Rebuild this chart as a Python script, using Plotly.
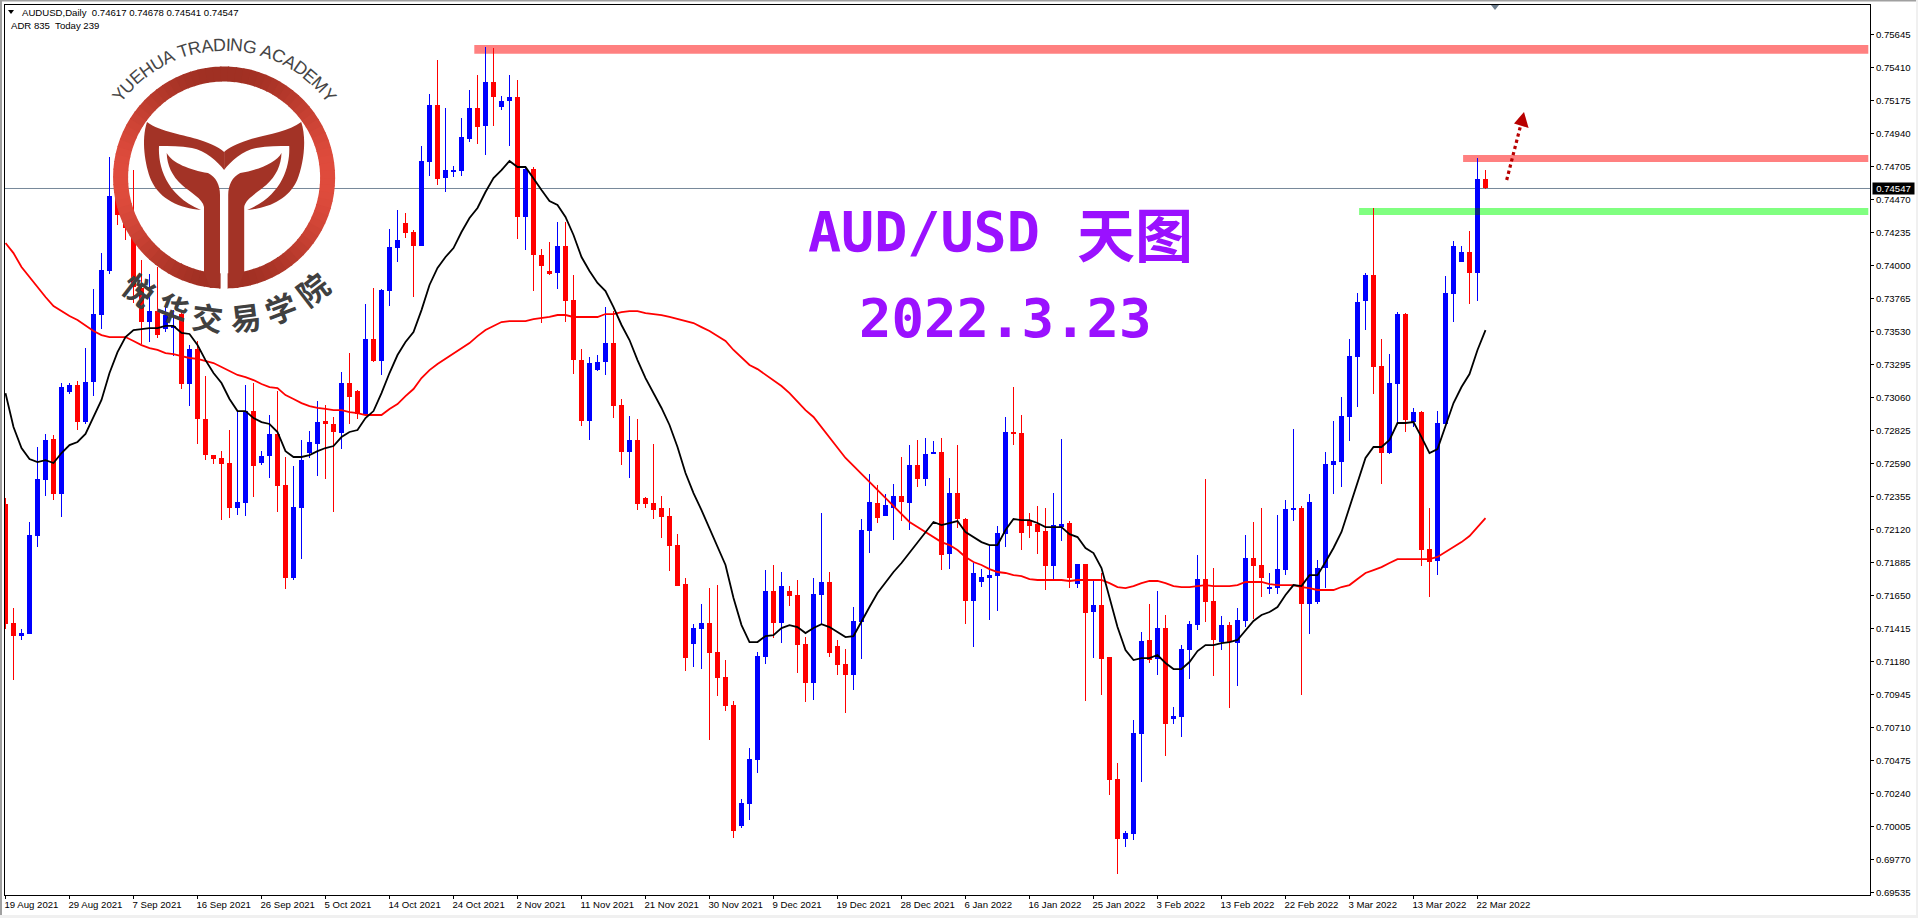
import math
import numpy as np
import plotly.graph_objects as go

# ---------- data (prices in points, 1 point = 0.00001) ----------
open_pts = [
72300,71453,71367,71374,72072,72471,72763,72371,73098,73147,
72884,73169,73646,73959,74486,74358,74265,73838,73596,73674,
73546,73553,73653,73155,73404,72905,72649,72628,72592,72272,
72307,72962,72592,72642,72799,72435,71773,72272,72663,72727,
72891,72870,72806,73162,73105,72941,73475,73318,73817,74123,
74301,74237,74137,74735,75141,74621,74671,74671,74899,75120,
74992,75305,75127,75170,75198,74344,74686,74073,73959,73945,
74137,73753,73325,72891,73254,73311,73446,73005,72670,72756,
72343,72307,72272,72215,72008,71730,71303,71410,71453,71246,
71068,70869,70007,70164,70477,71210,71680,71453,71680,71652,
71303,71025,71652,71745,71289,71161,71082,71460,72108,72307,
72215,72272,72357,72307,72578,72478,72663,72670,71944,72378,
72193,71609,71745,71773,71787,72086,72813,72806,72179,72158,
72108,71859,72136,72165,71730,71873,71531,71581,71210,70342,
69915,69950,70662,71332,71196,71417,70769,70783,71260,71438,
71766,71609,71317,71438,71310,71467,71916,71866,71702,71702,
71830,72257,72272,71588,71602,71844,72578,72599,72920,73347,
73746,73931,73283,72663,73155,73653,72884,72955,71980,71894,
72870,73795,74023,74095,73945,74617]
high_pts = [
72343,71559,71410,72172,72706,72799,72791,73162,73162,73176,
73411,73831,74087,74771,74536,74400,74678,74038,73938,73988,
73703,73681,73667,73432,73461,73212,72649,72677,72827,72969,
73147,73162,72677,72934,73105,72635,72571,72756,72820,73033,
73005,72920,73240,73375,73112,73724,73838,73831,74258,74394,
74372,74251,74849,75220,75462,75120,74707,75049,75248,75355,
75554,75547,75205,75355,75319,74700,74700,74116,74166,74308,
74308,73931,73404,73347,73361,73703,73674,73048,72927,72905,
72350,72727,72357,72272,72086,71773,71445,71588,71702,71723,
71189,70897,70199,70562,71246,71830,71866,71816,71716,71759,
71353,71773,72236,71816,71332,71267,71567,72193,72514,72435,
72371,72442,72635,72720,72756,72770,72749,72770,72485,72720,
72200,71880,71837,72008,72143,72920,73133,72934,72236,72286,
72272,72378,72763,72179,71873,71873,71759,71809,71210,70456,
69971,70762,71389,71588,71680,71510,70854,71296,71467,71937,
72478,71844,71503,71460,71559,72079,72172,72272,71809,72222,
72329,72834,72286,72371,71901,72670,72891,73062,73475,73803,
73945,74408,73475,73368,73667,73660,72984,72962,72272,72962,
73924,74173,74137,74244,74764,74678]
low_pts = [
71410,71047,71332,71374,71994,72357,72329,72207,73083,72827,
72870,73069,73546,73938,74287,74180,73731,73439,73454,73482,
73525,73354,73119,72998,72727,72613,72585,72186,72200,72222,
72215,72350,72578,72485,72243,71695,71759,71908,72628,72499,
72478,72243,72692,72870,72905,72934,73311,73219,73710,74023,
74194,73774,74137,74636,74572,74522,74629,74636,74878,74864,
74785,74992,75106,74849,74187,74109,73817,73589,73931,73831,
73596,73226,72855,72756,73247,73219,72912,72578,72485,72257,
72272,72193,72058,71823,71716,71111,71139,71125,70619,70933,
70826,69922,69993,70050,70384,71161,71346,71310,71574,71097,
70890,70904,71438,71210,71082,70812,70976,71196,71951,72165,
72215,72044,72179,72115,72421,72428,72656,71830,71837,72129,
71445,71282,71709,71474,71538,71994,72720,71972,72058,71944,
71688,71759,72037,71702,71702,70897,71203,70940,70228,69665,
69858,69907,70320,71168,71082,70506,70733,70641,71054,71403,
71460,71075,71260,70847,71004,71424,71481,71638,71659,71659,
71794,72179,70940,71374,71588,71702,72371,72421,72749,72991,
73539,73083,72442,72656,72877,72813,72848,71859,71638,71794,
72870,73596,74023,73724,73746,74541]
close_pts = [
71445,71360,71381,72079,72478,72756,72371,73133,73147,72884,
73169,73653,73966,74493,74358,74265,73845,73596,73674,73503,
73646,73568,73155,73404,72905,72649,72620,72585,72272,72314,
72962,72571,72642,72799,72428,71773,72279,72613,72742,72884,
72870,72813,73162,73062,72941,73475,73318,73824,74130,74180,
74230,74137,74743,75141,74614,74678,74678,74913,75120,74985,
75305,75198,75170,75198,74344,74686,74073,73995,73938,74137,
73746,73325,72891,73304,73311,73446,72998,72670,72756,72300,
72300,72257,72207,72001,71716,71203,71417,71453,71239,71061,
70862,69971,70171,70484,71218,71680,71453,71716,71645,71296,
71025,71659,71745,71239,71154,71082,71467,72115,72314,72200,
72293,72357,72314,72578,72478,72656,72670,71937,72378,72193,
71609,71809,71780,71794,72094,72813,72799,72094,72143,72101,
71859,72150,72158,71773,71873,71524,71581,71196,70335,69915,
69957,70669,71324,71189,71417,70733,70790,71267,71445,71766,
71602,71332,71438,71317,71474,71916,71859,71773,71709,71837,
72264,72272,71588,72314,71844,72585,72606,72927,73354,73738,
73931,73276,72663,73162,73653,72898,72955,71972,71887,72877,
73803,74137,74095,73945,74617,74547]
ma_black_pts = [
73090,72848,72699,72620,72599,72613,72592,72663,72720,72742,
72799,72920,73041,73233,73382,73489,73539,73546,73553,73553,
73568,73568,73518,73511,73432,73325,73233,73162,73048,72962,
72962,72912,72884,72870,72813,72677,72635,72635,72649,72677,
72699,72713,72777,72813,72827,72912,72962,73090,73233,73361,
73454,73525,73681,73860,73981,74059,74123,74237,74337,74408,
74522,74621,74678,74743,74700,74700,74614,74536,74458,74429,
74344,74216,74059,73959,73874,73817,73703,73575,73468,73325,
73197,73090,72984,72863,72706,72521,72378,72257,72129,71994,
71866,71631,71438,71317,71317,71360,71367,71417,71438,71424,
71381,71417,71445,71424,71389,71353,71360,71467,71567,71666,
71745,71816,71880,71951,72022,72101,72172,72150,72165,72179,
72101,72065,72029,72008,72008,72115,72193,72186,72186,72165,
72136,72136,72136,72086,72065,71987,71951,71844,71638,71424,
71260,71189,71203,71203,71225,71168,71125,71125,71175,71253,
71296,71296,71310,71317,71332,71403,71467,71510,71531,71567,
71652,71723,71716,71794,71794,71887,71987,72101,72272,72450,
72628,72706,72706,72756,72877,72877,72884,72777,72663,72692,
72848,73019,73133,73226,73397,73539]
ma_red_pts = [
74159,74087,73988,73916,73838,73774,73710,73674,73639,73610,
73568,73532,73503,73489,73489,73489,73461,73432,73411,73397,
73375,73368,73354,73340,73333,73318,73304,73276,73247,73219,
73204,73183,73155,73133,73126,73076,73048,73019,72998,72984,
72977,72969,72969,72955,72948,72934,72934,72934,72977,73012,
73069,73119,73197,73254,73297,73333,73375,73411,73446,73496,
73539,73568,73596,73603,73603,73603,73617,73625,73632,73646,
73646,73632,73632,73632,73632,73653,73653,73667,73674,73674,
73660,73653,73646,73632,73617,73603,73589,73560,73532,73496,
73461,73397,73340,73290,73261,73219,73183,73140,73090,73033,
72969,72920,72848,72770,72699,72628,72571,72514,72457,72400,
72343,72279,72222,72172,72136,72101,72065,72029,72008,71972,
71923,71887,71866,71837,71816,71809,71794,71787,71766,71759,
71759,71759,71759,71752,71759,71759,71759,71759,71737,71709,
71702,71716,71737,71752,71752,71737,71716,71709,71709,71716,
71723,71716,71716,71716,71723,71745,71745,71745,71730,71723,
71723,71723,71709,71702,71688,71688,71688,71709,71723,71766,
71809,71830,71851,71880,71908,71908,71908,71908,71908,71923,
71958,71994,72029,72072,72136,72200]

date_labels = ["19 Aug 2021","29 Aug 2021","7 Sep 2021","16 Sep 2021","26 Sep 2021","5 Oct 2021",
"14 Oct 2021","24 Oct 2021","2 Nov 2021","11 Nov 2021","21 Nov 2021","30 Nov 2021","9 Dec 2021",
"19 Dec 2021","28 Dec 2021","6 Jan 2022","16 Jan 2022","25 Jan 2022","3 Feb 2022","13 Feb 2022",
"22 Feb 2022","3 Mar 2022","13 Mar 2022","22 Mar 2022"]
date_ticks = list(range(0, 185, 8))
price_ticks = [0.69535,0.69770,0.70005,0.70240,0.70475,0.70710,0.70945,0.71180,0.71415,0.71650,
0.71885,0.72120,0.72355,0.72590,0.72825,0.73060,0.73295,0.73530,0.73765,0.74000,0.74235,0.74470,
0.74705,0.74940,0.75175,0.75410,0.75645]
last_price = 0.74547
resistance_top = (0.75507, 0.75568, 58.6)
resistance_mid = (0.74735, 0.74785, 182.2)
support_zone = (0.74358, 0.74408, 169.2)

assert all(len(a) == 186 for a in (open_pts, high_pts, low_pts, close_pts, ma_black_pts, ma_red_pts))
O, H, L, C = [np.array(a) / 1e5 for a in (open_pts, high_pts, low_pts, close_pts)]
bars = np.arange(len(O))
colors = ["#0000ff" if c >= o else "#ff0000" for o, c in zip(O, C)]
top = np.maximum(O, C)
bot = np.minimum(O, C)

# ---------- layout geometry ----------
W, H_PX = 1918, 918
ML, MR, MT, MB = 5, 48, 5, 23
PW, PH = W - ML - MR, H_PX - MT - MB
def px(x): return (x - ML) / PW
def py(y): return (H_PX - MB - y) / PH

fig = go.Figure()
fig.add_trace(go.Bar(x=bars, y=H - L, base=L, width=0.1, marker=dict(color=colors, line=dict(width=0)), hoverinfo="skip"))
fig.add_trace(go.Bar(x=bars, y=np.maximum(top - bot, 0.00002), base=bot, width=0.6, marker=dict(color=colors, line=dict(width=0)), hoverinfo="skip"))
fig.add_trace(go.Scatter(x=bars, y=np.array(ma_red_pts) / 1e5, mode="lines", line=dict(color="#ff0000", width=1.8), hoverinfo="skip"))
fig.add_trace(go.Scatter(x=bars, y=np.array(ma_black_pts) / 1e5, mode="lines", line=dict(color="#000000", width=1.8), hoverinfo="skip"))

shapes = []
annos = []
X_END = 232.85
for (lo, hi, x0), col in zip((resistance_top, resistance_mid, support_zone), ("#ff8080", "#ff8080", "#80ff80")):
    shapes.append(dict(type="rect", xref="x", yref="y", x0=x0, x1=X_END, y0=lo, y1=hi, fillcolor=col, line=dict(width=0), layer="below"))
shapes.append(dict(type="line", xref="paper", yref="y", x0=0, x1=1, y0=last_price, y1=last_price, line=dict(color="#778899", width=1), layer="below"))
# blue candle showing darker through the green zone
shapes.append(dict(type="rect", xref="x", yref="y", x0=183.7, x1=184.3, y0=support_zone[0], y1=support_zone[1], fillcolor="#0a2a80", line=dict(width=0), layer="above"))

# ---------- window frame ----------
def paper_rect(x0, y0, x1, y1, col):
    shapes.append(dict(type="rect", xref="paper", yref="paper", x0=px(x0), x1=px(x1), y0=py(y0), y1=py(y1), fillcolor=col, line=dict(width=0), layer="above"))
paper_rect(0, 0, 2, 918, "#a0a0a0")
paper_rect(0, 0, 1918, 1.5, "#a0a0a0")
paper_rect(0, 915, 1918, 918, "#f0f0f0")
paper_rect(1916, 0, 1918, 918, "#f0f0f0")

def poly(points, col):
    d = "M" + " L".join(f"{px(x):.6f},{py(y):.6f}" for x, y in points) + " Z"
    shapes.append(dict(type="path", xref="paper", yref="paper", path=d, fillcolor=col, line=dict(width=0), layer="above"))

poly([(1491, 5), (1499, 5), (1495, 10)], "#6f7f8f")        # chart-shift marker
poly([(8, 10), (14, 10), (11, 14)], "#000000")             # header triangle

# ---------- logo ----------
CX, CY = 224.1, 177.5
R_OUT, R_IN = 111, 96
N = 90
for k in range(N):
    a0, a1 = 2 * math.pi * k / N, 2 * math.pi * (k + 1.15) / N
    t = abs(math.cos((a0 + a1) / 2)) ** 2.2
    col = "rgb(%d,%d,%d)" % (160 + 64 * t, 48 + 28 * t, 35 + 26 * t)
    aa = np.linspace(a0, a1, 4)
    pts = [(CX + R_OUT * math.cos(a), CY + R_OUT * math.sin(a)) for a in aa] + \
          [(CX + R_IN * math.cos(a), CY + R_IN * math.sin(a)) for a in aa[::-1]]
    poly(pts, col)

def bez(segments, mirror, col="#a33326"):
    def t(p):
        x, y = p
        if mirror:
            x = 2 * CX - x
        return f"{px(x):.6f},{py(y):.6f}"
    d = ""
    for cmd, pts in segments:
        d += cmd + " ".join(t(p) for p in pts) + " "
    shapes.append(dict(type="path", xref="paper", yref="paper", path=d + "Z", fillcolor=col, line=dict(width=0), layer="above"))

horn = [("M", [(147, 122)]), ("C", [(160, 132), (185, 135), (200, 140)]), ("C", [(212, 144), (220, 148), (CX, 152)]),
        ("L", [(CX, 170)]), ("C", [(218, 162), (205, 150), (192, 148)]), ("C", [(180, 146), (170, 146), (159, 146)]),
        ("C", [(158, 165), (165, 195), (201, 210)]), ("C", [(180, 208), (160, 200), (151, 180)]), ("C", [(145, 165), (141, 140), (147, 122)])]
leaf = [("M", [(166.7, 153)]), ("C", [(172, 163), (190, 170), (208, 173)]), ("C", [(216, 177), (220, 185), (220, 195)]),
        ("L", [(220, 280)]), ("C", [(220, 285), (215, 288), (210, 288)]), ("L", [(204, 272)]), ("L", [(204, 207)]),
        ("C", [(203, 199), (190, 192), (182, 185)]), ("C", [(172, 176), (167, 165), (166.7, 153)])]
for m in (False, True):
    bez(horn, m)
    bez(leaf, m)
paper_rect(CX - 3.5, 268, CX + 3.5, 292, "#ffffff")

# logo text on arcs
arc_text = "YUEHUA TRADING ACADEMY"
arc_w = {"Y": .667, "U": .722, "E": .667, "H": .722, "A": .667, " ": .278, "T": .611, "R": .722, "D": .722, "I": .278, "N": .722, "G": .778, "C": .722, "M": .833}
FS = 17.8
R_TXT = 133
total = sum(arc_w[c] for c in arc_text) * FS
pos = -total / 2
for ch in arc_text:
    w = arc_w[ch] * FS
    ang = (pos + w / 2) / R_TXT
    pos += w
    if ch == " ":
        continue
    annos.append(dict(xref="paper", yref="paper", x=px(CX + R_TXT * math.sin(ang)), y=py(CY - R_TXT * math.cos(ang)),
                      text=ch, showarrow=False, textangle=math.degrees(ang), xanchor="center", yanchor="middle",
                      font=dict(family="Liberation Sans", size=FS, color="#454545")))
cn_text = "悦华交易学院"
cn_pos = [(139, 289, 37.5), (173.5, 308, 21), (207, 317, 7), (245, 317, -7), (280, 308, -21), (312, 289, -37.5)]
for ch, (x, y, a) in zip(cn_text, cn_pos):
    annos.append(dict(xref="paper", yref="paper", x=px(x), y=py(y), text=f"<b>{ch}</b>", showarrow=False, textangle=a,
                      xanchor="center", yanchor="middle", font=dict(family="Noto Sans CJK SC", size=31, color="#404040")))

# ---------- arrow ----------
shapes.append(dict(type="line", xref="paper", yref="paper", x0=px(1506.7), y0=py(180), x1=px(1521), y1=py(124),
                   line=dict(color="#b80000", width=3.2, dash="dot"), layer="above"))
poly([(1524, 112), (1514, 123.5), (1528.6, 128)], "#b80000")

# ---------- titles ----------
PURPLE = "#9a11ff"
def title(x, y, text, family, size):
    annos.append(dict(xref="paper", yref="paper", x=px(x), y=py(y), text=f"<b>{text}</b>", showarrow=False,
                      xanchor="center", yanchor="middle", font=dict(family=family, size=size, color=PURPLE)))
title(923.5, 232, "AUD/USD", "DejaVu Sans Mono", 55)
title(1135, 232, "天图", "Noto Sans CJK SC", 58)
title(1005, 318, "2022.3.23", "DejaVu Sans Mono", 54)

# ---------- header ----------
def small(x, y, text):
    annos.append(dict(xref="paper", yref="paper", x=px(x), y=py(y), text=text, showarrow=False, xanchor="left", yanchor="middle",
                      font=dict(family="Liberation Sans", size=9.6, color="#000000")))
small(20, 12.3, "AUDUSD,Daily  0.74617 0.74678 0.74541 0.74547")
small(9.4, 25.7, "ADR 835  Today 239")

annos.append(dict(xref="paper", yref="y", x=1, y=last_price, xshift=1.5, text="0.74547", showarrow=False, xanchor="left", yanchor="middle",
                  bgcolor="#000000", width=41, height=11, borderpad=0, align="center",
                  font=dict(family="Liberation Sans", size=9.6, color="#ffffff")))

fig.update_layout(
    width=W, height=H_PX, autosize=False, showlegend=False, barmode="overlay", bargap=0,
    paper_bgcolor="#ffffff", plot_bgcolor="#ffffff",
    margin=dict(l=ML, r=MR, t=MT, b=MB, pad=0),
    shapes=shapes, annotations=annos, hovermode=False,
    xaxis=dict(range=[-0.0625, -0.0625 + PW / 8], tickmode="array", tickvals=date_ticks, ticktext=date_labels,
               showgrid=False, zeroline=False, showline=True, mirror=True, linecolor="#000000", linewidth=1,
               ticks="outside", ticklen=3, tickwidth=1, tickcolor="#000000", tickangle=0,
               ticklabelposition="outside right", ticklabelshift=-2,
               tickfont=dict(family="Liberation Sans", size=9.6, color="#000000")),
    yaxis=dict(range=[0.69516, 0.758536], side="right", tickmode="array", tickvals=price_ticks,
               ticktext=[f"{v:.5f}" for v in price_ticks],
               showgrid=False, zeroline=False, showline=True, mirror=True, linecolor="#000000", linewidth=1,
               ticks="outside", ticklen=3, tickwidth=1, tickcolor="#000000",
               tickfont=dict(family="Liberation Sans", size=9.6, color="#000000")),
)

fig.write_html("out.html", config={"displayModeBar": False},
               post_script="document.body.style.margin='0';document.body.style.overflow='hidden';")
